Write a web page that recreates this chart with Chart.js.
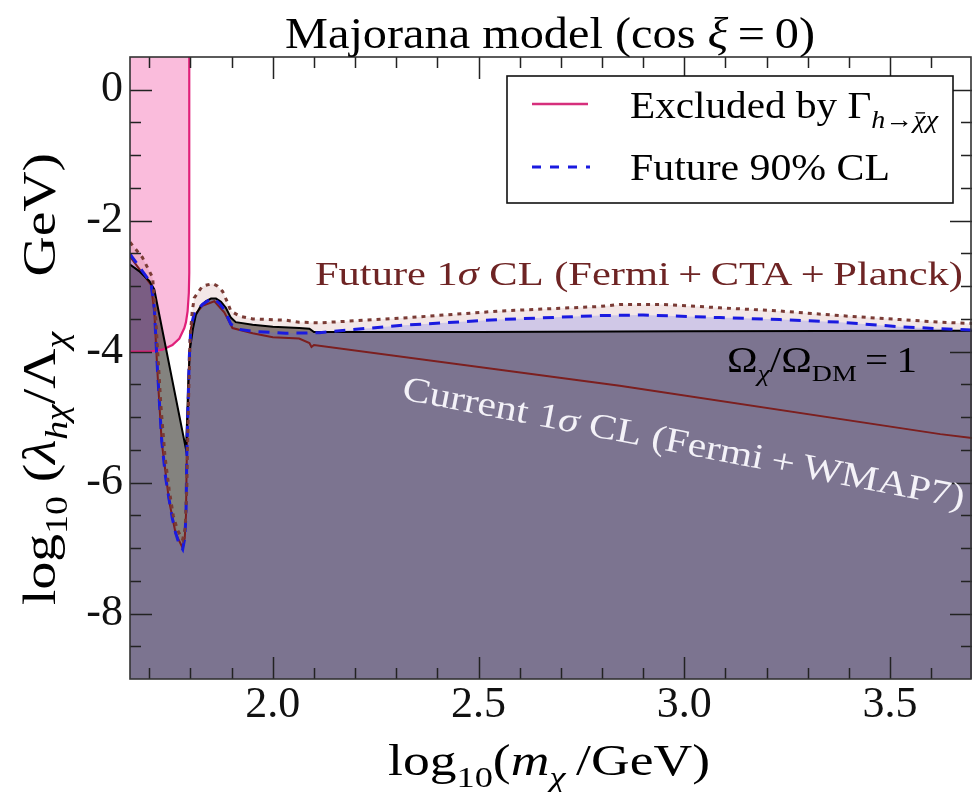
<!DOCTYPE html>
<html>
<head>
<meta charset="utf-8">
<script src="https://cdn.jsdelivr.net/npm/chart.js@4.4.1/dist/chart.umd.min.js"></script>
<style>
  html, body { margin: 0; padding: 0; background: #fff; }
  #wrap { width: 973px; height: 792px; }
</style>
</head>
<body>
<div id="wrap"><canvas id="c" width="973" height="792"></canvas></div>
<script>
// log10(m_chi/GeV) range and log10(lambda/Lambda GeV) range
const xRange = [1.653, 3.699];
const yRange = [-9, 0.5];
const xTickStep = 0.5;
const yTickStep = 2;

// Omega_chi / Omega_DM = 1 (relic line, black)
const relicX = [1.653, 1.675, 1.700, 1.712, 1.789, 1.792, 1.795, 1.799, 1.806, 1.813, 1.825, 1.837, 1.850, 1.862, 1.874, 1.886, 1.898, 1.910, 1.951, 2.000, 2.064, 2.089, 2.100, 2.500, 3.000, 3.699];
const relicY = [-2.67, -2.77, -2.92, -3.05, -5.49, -5.00, -4.40, -3.95, -3.65, -3.44, -3.30, -3.23, -3.19, -3.19, -3.24, -3.33, -3.48, -3.55, -3.59, -3.62, -3.64, -3.65, -3.70, -3.70, -3.69, -3.68];

// Future 90% CL (blue dashed)
const future90X = [1.653, 1.683, 1.704, 1.712, 1.720, 1.730, 1.739, 1.748, 1.756, 1.764, 1.772, 1.781, 1.786, 1.789, 1.791, 1.794, 1.797, 1.801, 1.809, 1.829, 1.845, 1.858, 1.870, 1.882, 1.898, 1.920, 1.951, 2.032, 2.113, 2.308, 2.551, 2.795, 2.900, 3.086, 3.232, 3.378, 3.524, 3.622, 3.699];
const future90Y = [-2.51, -2.77, -2.95, -3.33, -4.31, -5.35, -5.90, -6.26, -6.55, -6.77, -6.93, -7.02, -6.85, -6.50, -5.60, -4.80, -4.10, -3.62, -3.42, -3.28, -3.21, -3.20, -3.26, -3.36, -3.58, -3.66, -3.69, -3.72, -3.71, -3.60, -3.51, -3.45, -3.44, -3.48, -3.51, -3.55, -3.62, -3.65, -3.67];

// Future 1 sigma CL, Fermi+CTA+Planck (brown dotted)
const future1sX = [1.653, 1.683, 1.708, 1.716, 1.728, 1.738, 1.748, 1.758, 1.768, 1.781, 1.787, 1.791, 1.794, 1.797, 1.799, 1.804, 1.809, 1.829, 1.854, 1.866, 1.878, 1.890, 1.898, 1.920, 1.951, 2.032, 2.064, 2.113, 2.308, 2.551, 2.795, 2.843, 2.950, 3.086, 3.232, 3.378, 3.524, 3.622, 3.699];
const future1sY = [-2.33, -2.56, -2.87, -3.54, -4.82, -5.60, -6.10, -6.50, -6.72, -6.87, -6.70, -6.10, -5.08, -4.30, -3.79, -3.40, -3.18, -3.00, -2.96, -3.00, -3.08, -3.25, -3.38, -3.46, -3.50, -3.52, -3.55, -3.56, -3.49, -3.38, -3.31, -3.28, -3.28, -3.33, -3.38, -3.45, -3.51, -3.55, -3.57];

// Current 1 sigma CL, Fermi+WMAP7 (brown solid)
const current1sX = [1.653, 1.683, 1.704, 1.712, 1.720, 1.730, 1.748, 1.764, 1.781, 1.786, 1.789, 1.791, 1.794, 1.797, 1.801, 1.809, 1.829, 1.858, 1.882, 1.902, 1.951, 2.000, 2.064, 2.089, 2.094, 2.100, 2.843, 3.622, 3.699];
const current1sY = [-2.55, -2.80, -2.98, -3.38, -4.35, -5.38, -6.28, -6.78, -7.00, -6.85, -6.50, -5.60, -4.80, -4.10, -3.64, -3.45, -3.30, -3.23, -3.40, -3.64, -3.72, -3.78, -3.80, -3.87, -3.93, -3.90, -4.52, -5.26, -5.32];

// Excluded by Higgs invisible width (pink)
const higgsX = [1.653, 1.700, 1.732, 1.756, 1.773, 1.785, 1.789, 1.793, 1.796, 1.797, 1.797];
const higgsY = [-4.00, -4.00, -3.97, -3.90, -3.80, -3.64, -3.55, -3.38, -3.10, -2.80, 0.60];

const pts = (xs, ys) => xs.map((x, i) => ({ x, y: ys[i] }));

const SERIF = 'Liberation Serif';
Chart.defaults.font.family = SERIF;

// draw a run of text pieces (roman / italic / subscript) on one baseline
function drawRich(ctx, segs, x, y, size, opt) {
  opt = opt || {};
  const parts = segs.map(s => {
    const sz = s.sub ? size * 0.68 : size;
    const font = (s.it ? 'italic ' : '') + sz.toFixed(1) + 'px "' + SERIF + '"';
    ctx.font = font;
    return { s, font, sz, w: ctx.measureText(s.t).width };
  });
  const total = parts.reduce((a, p) => a + p.w, 0);
  const sx = opt.width ? opt.width / total : 1;
  ctx.save();
  ctx.translate(x, y);
  if (opt.rot) ctx.rotate(opt.rot);
  ctx.scale(sx, 1);
  ctx.fillStyle = opt.color || '#000';
  ctx.strokeStyle = opt.color || '#000';
  ctx.textBaseline = 'alphabetic';
  ctx.textAlign = 'left';
  let cx = 0;
  parts.forEach(p => {
    ctx.font = p.font;
    const dy = p.s.sub ? size * 0.27 : 0;
    ctx.fillText(p.s.t, cx, dy);
    if (p.s.bar) {
      ctx.lineWidth = 1.3;
      ctx.beginPath();
      ctx.moveTo(cx + p.w * 0.2, dy - p.sz * 0.6);
      ctx.lineTo(cx + p.w * 0.95, dy - p.sz * 0.6);
      ctx.stroke();
    }
    cx += p.w;
  });
  ctx.restore();
}

const decorations = {
  id: 'decorations',
  afterDraw(chart) {
    const ctx = chart.ctx;
    const a = chart.chartArea;
    const xs = chart.scales.x, ys = chart.scales.y;

    // inward ticks on all four sides
    ctx.save();
    ctx.strokeStyle = '#222';
    ctx.lineWidth = 1.5;
    ctx.beginPath();
    for (let k = Math.ceil(xRange[0] * 10); k <= Math.floor(xRange[1] * 10); k++) {
      const v = k / 10;
      const px = Math.round(xs.getPixelForValue(v)) + 0.5;
      const len = k % 5 === 0 ? 22 : 11;
      ctx.moveTo(px, a.bottom); ctx.lineTo(px, a.bottom - len);
      ctx.moveTo(px, a.top); ctx.lineTo(px, a.top + len);
    }
    for (let k = Math.ceil(yRange[0] * 2) + 1; k < yRange[1] * 2; k++) {
      const v = k / 2;
      const py = Math.round(ys.getPixelForValue(v)) + 0.5;
      const len = k % 4 === 0 ? 22 : 11;
      ctx.moveTo(a.left, py); ctx.lineTo(a.left + len, py);
      ctx.moveTo(a.right, py); ctx.lineTo(a.right - len, py);
    }
    ctx.stroke();
    ctx.lineWidth = 1.6;
    ctx.strokeStyle = '#333';
    ctx.strokeRect(a.left, a.top, a.right - a.left - 1, a.bottom - a.top);
    ctx.restore();

    // legend box
    ctx.save();
    ctx.fillStyle = '#fff';
    ctx.fillRect(507, 76, 446, 127);
    ctx.strokeStyle = '#111';
    ctx.lineWidth = 1.6;
    ctx.strokeRect(507, 76, 446, 127);
    ctx.lineWidth = 2.5;
    ctx.strokeStyle = '#d62f7c';
    ctx.beginPath(); ctx.moveTo(532, 104); ctx.lineTo(588, 104); ctx.stroke();
    ctx.strokeStyle = '#1a1ae0';
    ctx.lineWidth = 3;
    ctx.setLineDash([9, 9]);
    ctx.beginPath(); ctx.moveTo(532, 167); ctx.lineTo(590, 167); ctx.stroke();
    ctx.restore();

    drawRich(ctx, [{ t: 'Excluded by \u0393' }, { t: 'h', it: 1, sub: 1 }, { t: '\u2192', sub: 1 },
      { t: '\u03c7', it: 1, sub: 1, bar: 1 }, { t: '\u03c7', it: 1, sub: 1 }], 630, 118, 37, { width: 308 });
    drawRich(ctx, [{ t: 'Future 90% CL' }], 630, 180, 37, { width: 260 });

    // title and axis titles
    drawRich(ctx, [{ t: 'Majorana model (cos ' }, { t: '\u03be', it: 1 }, { t: '\u2009=\u20090)' }],
      285, 48, 44, { width: 530 });
    drawRich(ctx, [{ t: 'log' }, { t: '10', sub: 1 }, { t: '(' }, { t: 'm', it: 1 }, { t: '\u03c7', it: 1, sub: 1 }, { t: '\u2009/GeV)' }],
      388, 775, 44, { width: 322 });
    drawRich(ctx, [{ t: 'log' }, { t: '10', sub: 1 }, { t: ' (' }, { t: '\u03bb', it: 1 }, { t: 'h\u03c7', it: 1, sub: 1 },
      { t: '/\u039b' }, { t: '\u03c7', it: 1, sub: 1 }, { t: '\u2003GeV)' }],
      55, 605, 46, { width: 452, rot: -Math.PI / 2 });

    // in-plot annotations
    drawRich(ctx, [{ t: 'Future 1' }, { t: '\u03c3', it: 1 }, { t: ' CL (Fermi\u2009+\u2009CTA\u2009+\u2009Planck)' }],
      315, 285, 34, { width: 648, color: '#6e2424' });
    drawRich(ctx, [{ t: '\u03a9' }, { t: '\u03c7', it: 1, sub: 1 }, { t: '/\u03a9' }, { t: 'DM', sub: 1 }, { t: '\u2009=\u20091' }],
      727, 372, 35, { width: 190 });
    drawRich(ctx, [{ t: 'Current 1' }, { t: '\u03c3', it: 1 }, { t: ' CL (Fermi\u2009+\u2009WMAP7)' }],
      401, 399, 35, { width: 572, rot: 11 * Math.PI / 180, color: '#f4f2f8' });
  }
};

new Chart(document.getElementById('c'), {
  type: 'line',
  data: {
    datasets: [
      {
        label: 'Future 1\u03c3 CL',
        data: pts(future1sX, future1sY),
        borderColor: '#7a3b35',
        borderWidth: 3,
        borderDash: [4, 5],
        fill: 'start',
        backgroundColor: 'rgba(160,70,70,0.13)'
      },
      {
        label: 'Future 90% CL',
        data: pts(future90X, future90Y),
        borderColor: '#1a1ae0',
        borderWidth: 3,
        borderDash: [11, 8],
        fill: 'start',
        backgroundColor: 'rgba(70,90,255,0.22)'
      },
      {
        label: '\u03a9/\u03a9DM = 1',
        data: pts(relicX, relicY),
        borderColor: '#000',
        borderWidth: 2,
        fill: 'start',
        backgroundColor: 'rgba(20,18,10,0.52)'
      },
      {
        label: 'Current 1\u03c3 CL',
        data: pts(current1sX, current1sY),
        borderColor: '#7c1f1f',
        borderWidth: 2,
        fill: false
      },
      {
        label: 'Excluded by Higgs width',
        data: pts(higgsX, higgsY),
        borderColor: '#e0207a',
        borderWidth: 2.2,
        fill: 'end',
        backgroundColor: 'rgb(250,188,220)'
      }
    ]
  },
  options: {
    responsive: false,
    animation: false,
    layout: { padding: { top: 57, right: 1, left: 0, bottom: 0 } },
    elements: { point: { radius: 0 }, line: { tension: 0 } },
    plugins: {
      legend: { display: false },
      tooltip: { enabled: false },
      filler: { drawTime: 'beforeDatasetsDraw' }
    },
    scales: {
      x: {
        type: 'linear',
        min: xRange[0],
        max: xRange[1],
        grid: { display: false, drawTicks: false },
        border: { display: false },
        afterFit: (s) => { s.height = 113; },
        ticks: {
          stepSize: xTickStep,
          includeBounds: false,
          autoSkip: false,
          maxRotation: 0,
          padding: 0,
          color: '#111',
          font: { size: 44, family: SERIF },
          callback: (v) => v.toFixed(1)
        }
      },
      y: {
        type: 'linear',
        min: yRange[0],
        max: yRange[1],
        grid: { display: false, drawTicks: false },
        border: { display: false },
        afterFit: (s) => { s.width = 130; },
        ticks: {
          stepSize: yTickStep,
          includeBounds: false,
          autoSkip: false,
          padding: 7,
          color: '#111',
          font: { size: 44, family: SERIF },
          callback: (v) => String(v)
        }
      }
    }
  },
  plugins: [decorations]
});
</script>
</body>
</html>
